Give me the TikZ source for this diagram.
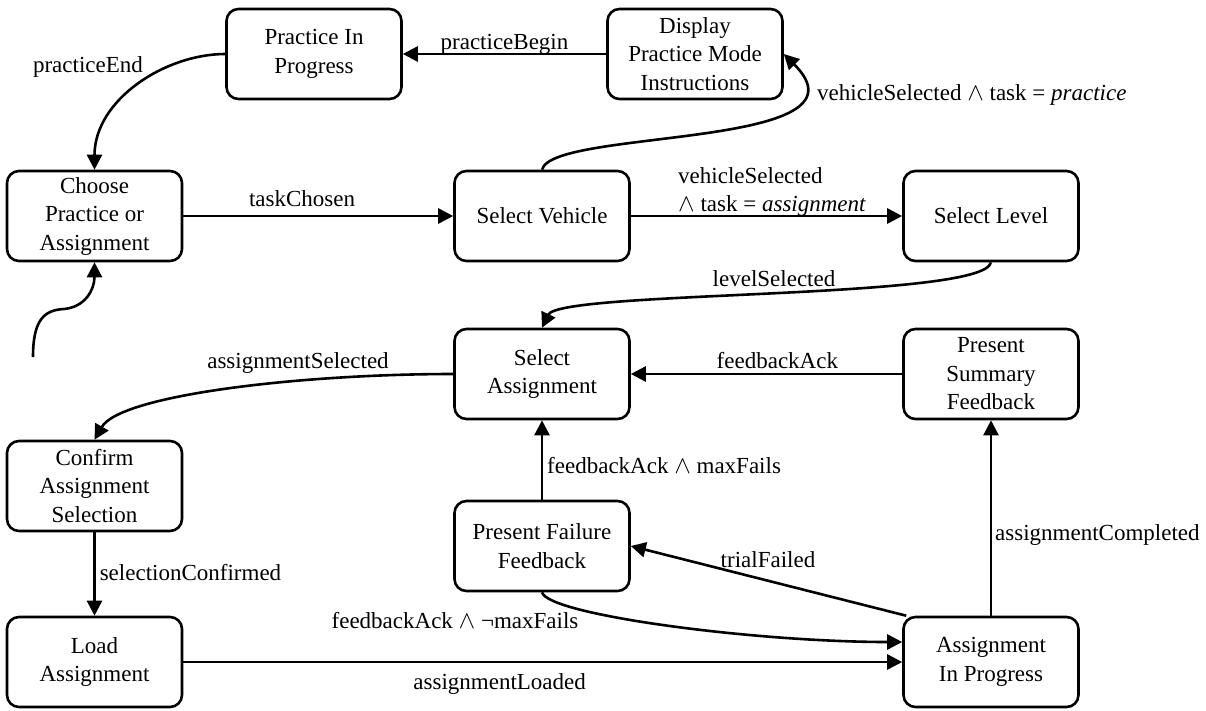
\documentclass[tikz,border=0pt]{standalone}
\usepackage{fontspec}
\setmainfont{Liberation Serif}
\usetikzlibrary{arrows.meta,calc}
\begin{document}
\begin{tikzpicture}[x=1pt,y=-1pt,
  stbox/.style={draw, line width=2.6pt, rounded corners=12pt, minimum width=175pt, minimum height=90pt, align=center, inner sep=2pt, font=\fontsize{23}{28.5}\selectfont},
  lbl/.style={inner sep=0pt, font=\fontsize{23}{28.5}\selectfont},
  tr/.style={line width=2.6pt, -{Triangle[length=15pt,width=15pt]}},
]
\useasboundingbox (0,0) rectangle (1206,710);

\node[stbox] (pip) at (314,54) {Practice In\\Progress};
\node[stbox] (dpm) at (695,54) {Display\\Practice Mode\\Instructions};
\node[stbox] (choose) at (94.5,216) {Choose\\Practice or\\Assignment};
\node[stbox] (sv) at (542,216) {Select Vehicle};
\node[stbox] (sl) at (991,216) {Select Level};
\node[stbox] (sa) at (542,374) {Select\\Assignment};
\node[stbox] (ps) at (991,374) {Present\\Summary\\Feedback};
\node[stbox] (conf) at (94.5,486) {Confirm\\Assignment\\Selection};
\node[stbox] (pf) at (542,546) {Present Failure\\Feedback};
\node[stbox] (load) at (94.5,662) {Load\\Assignment};
\node[stbox] (aip) at (991,662) {Assignment\\In Progress};

\coordinate (init) at (33,357);

% initial transition
\draw[tr] (init) .. controls (33,320) and (44,310) .. (64,309) .. controls (85,307) and (94.5,290) .. (choose.south);

% practiceBegin
\draw[tr] (dpm.west) -- node[lbl, anchor=base, yshift=5pt] {practiceBegin} (pip.east);

% practiceEnd
\draw[tr] (pip.west) .. controls ($(pip.west)+(-60,0)$) and ($(choose.north)+(0,-70)$) .. (choose.north);
\node[lbl, anchor=base] (lpe) at (88,72) {practiceEnd};

% taskChosen
\draw[tr] (choose.east) -- node[lbl, anchor=base, pos=0.44, yshift=10pt] {taskChosen} (sv.west);

% vehicleSelected and task = practice
\draw[tr] (sv.north) .. controls (552,128) and (880,150) .. (dpm.east);
\node[lbl, anchor=base west] (lvp) at (817,100) {vehicleSelected $\wedge$ task = \textit{practice}};

% vehicleSelected and task = assignment
\draw[tr] (sv.east) -- (sl.west);
\node[lbl, anchor=north west, align=left] (lva) at (678,167) {vehicleSelected\\$\wedge$ task = \textit{assignment}};

% levelSelected
\draw[tr] (sl.south) .. controls (984,300) and (560,290) .. (sa.north);
\node[lbl, anchor=base] (lls) at (774,286) {levelSelected};

% feedbackAck (summary)
\draw[tr] (ps.west) -- node[lbl, anchor=base, pos=0.46, yshift=6pt] {feedbackAck} (sa.east);

% assignmentSelected
\draw[tr] (sa.west) .. controls (300,374) and (120,395) .. (conf.north);
\node[lbl, anchor=base] (las) at (298,368) {assignmentSelected};

% selectionConfirmed
\draw[tr] (conf.south) -- node[lbl, anchor=base west, xshift=4pt, yshift=-6pt] {selectionConfirmed} (load.north);

% assignmentLoaded
\draw[tr] (load.east) -- node[lbl, anchor=base, pos=0.44, yshift=-27pt] {assignmentLoaded} (aip.west);

% feedbackAck and maxFails
\draw[tr] (pf.north) -- (sa.south);
\node[lbl, anchor=base west] (lmf) at (547,473) {feedbackAck $\wedge$ maxFails};

% feedbackAck and not maxFails
\draw[tr] (pf.south) .. controls (548,615) and (755,642) .. ([yshift=20pt]aip.west);
\node[lbl, anchor=base] (lnmf) at (455,628) {feedbackAck $\wedge$ ¬maxFails};

% trialFailed
\draw[tr] ([xshift=4pt]aip.north west) -- (pf.east);
\node[lbl, anchor=base] (ltf) at (768,567) {trialFailed};

% assignmentCompleted
\draw[tr] (aip.north) -- (ps.south);
\node[lbl, anchor=base west] (lac) at (995,540) {assignmentCompleted};

\end{tikzpicture}
\end{document}
